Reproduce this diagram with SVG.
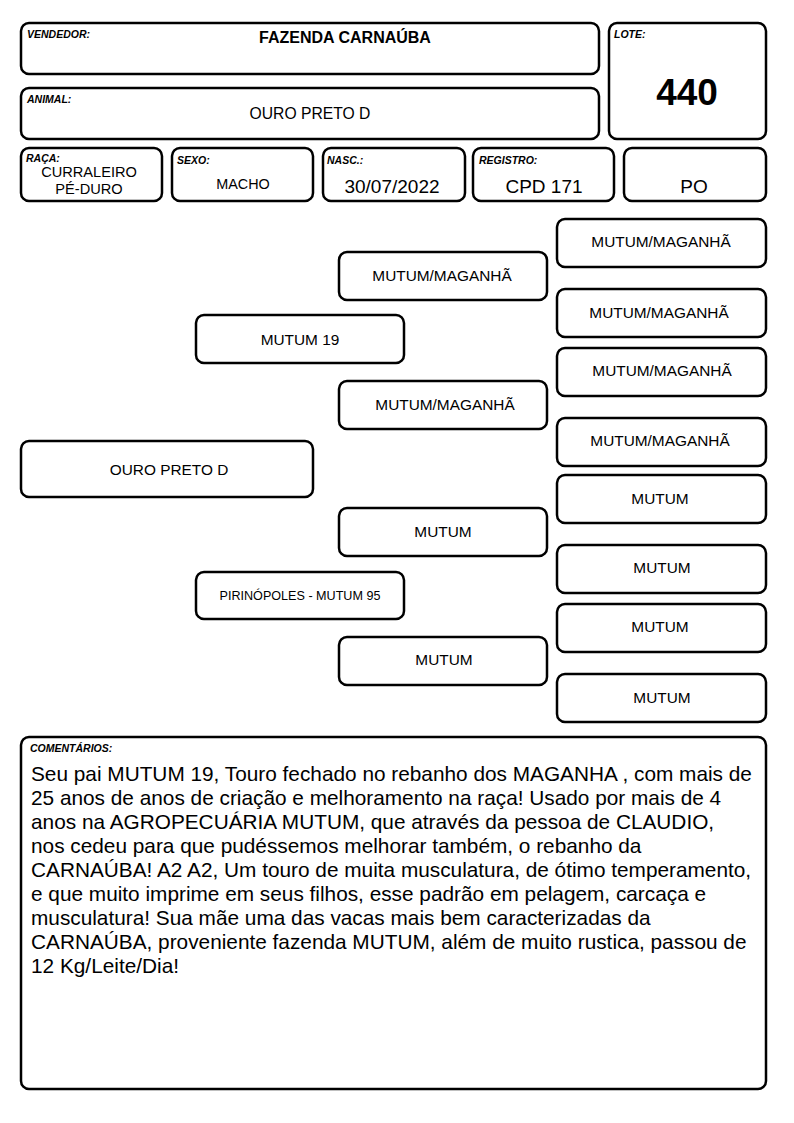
<svg xmlns="http://www.w3.org/2000/svg" width="794" height="1123" viewBox="0 0 794 1123">
<style>
.b{fill:#fff;stroke:#000;stroke-width:2.5}
.l{font-family:"Liberation Sans",Arial,sans-serif;font-size:10.5px;font-weight:bold;font-style:italic}
.t{font-family:"Liberation Sans",Arial,sans-serif;text-anchor:middle;font-size:15.4px}
.c{font-family:"Liberation Sans",Arial,sans-serif;font-size:20.8px}
</style>
<rect width="794" height="1123" fill="#fff"/>
<g id="vendedor"><rect class="b" x="21" y="23" width="578" height="51" rx="8"/><text class="l" x="27" y="38">VENDEDOR:</text><text class="t" x="345" y="43" style="font-weight:bold;font-size:16px">FAZENDA CARNAÚBA</text></g>
<g id="lote"><rect class="b" x="609" y="23" width="157" height="116" rx="8"/><text class="l" x="614" y="38">LOTE:</text><text class="t" x="687" y="105" style="font-weight:bold;font-size:37px">440</text></g>
<g id="animal"><rect class="b" x="21" y="88" width="578" height="51" rx="8"/><text class="l" x="27" y="103">ANIMAL:</text><text class="t" x="310" y="119" style="font-size:15.7px">OURO PRETO D</text></g>
<g id="raca"><rect class="b" x="21" y="148" width="141" height="53" rx="8"/><text class="l" x="26" y="162">RAÇA:</text><text class="t" x="89" y="177" style="font-size:14.6px">CURRALEIRO</text><text class="t" x="89" y="194" style="font-size:14.6px">PÉ-DURO</text></g>
<g id="sexo"><rect class="b" x="172" y="148" width="141" height="53" rx="8"/><text class="l" x="177" y="164">SEXO:</text><text class="t" x="243" y="189" style="font-size:14.4px">MACHO</text></g>
<g id="nasc"><rect class="b" x="323" y="148" width="142" height="53" rx="8"/><text class="l" x="327" y="164">NASC.:</text><text class="t" x="392" y="193" style="font-size:19px">30/07/2022</text></g>
<g id="registro"><rect class="b" x="473" y="148" width="141" height="53" rx="8"/><text class="l" x="479" y="164">REGISTRO:</text><text class="t" x="544" y="193" style="font-size:19px">CPD 171</text></g>
<g id="po"><rect class="b" x="624" y="148" width="142" height="53" rx="8"/><text class="t" x="694" y="193" style="font-size:19px">PO</text></g>
<g id="p0"><rect class="b" x="21" y="441" width="292" height="56" rx="8"/><text class="t" x="169" y="475">OURO PRETO D</text></g>
<g id="p1"><rect class="b" x="196" y="315" width="208" height="48" rx="8"/><text class="t" x="300" y="345">MUTUM 19</text></g>
<g id="p2"><rect class="b" x="196" y="572" width="208" height="47" rx="8"/><text class="t" x="300" y="600" style="font-size:12.6px">PIRINÓPOLES - MUTUM 95</text></g>
<g id="p3"><rect class="b" x="339" y="252" width="208" height="48" rx="8"/><text class="t" x="442" y="281">MUTUM/MAGANHÃ</text></g>
<g id="p4"><rect class="b" x="339" y="381" width="208" height="48" rx="8"/><text class="t" x="445" y="410">MUTUM/MAGANHÃ</text></g>
<g id="p5"><rect class="b" x="339" y="508" width="208" height="48" rx="8"/><text class="t" x="443" y="537">MUTUM</text></g>
<g id="p6"><rect class="b" x="339" y="637" width="208" height="48" rx="8"/><text class="t" x="444" y="665">MUTUM</text></g>
<g id="p7"><rect class="b" x="557" y="219" width="209" height="48" rx="8"/><text class="t" x="661" y="247">MUTUM/MAGANHÃ</text></g>
<g id="p8"><rect class="b" x="557" y="289" width="209" height="48" rx="8"/><text class="t" x="659" y="318">MUTUM/MAGANHÃ</text></g>
<g id="p9"><rect class="b" x="557" y="348" width="209" height="48" rx="8"/><text class="t" x="662" y="376">MUTUM/MAGANHÃ</text></g>
<g id="p10"><rect class="b" x="557" y="418" width="209" height="48" rx="8"/><text class="t" x="660" y="446">MUTUM/MAGANHÃ</text></g>
<g id="p11"><rect class="b" x="557" y="475" width="209" height="48" rx="8"/><text class="t" x="660" y="504">MUTUM</text></g>
<g id="p12"><rect class="b" x="557" y="545" width="209" height="48" rx="8"/><text class="t" x="662" y="573">MUTUM</text></g>
<g id="p13"><rect class="b" x="557" y="604" width="209" height="48" rx="8"/><text class="t" x="660" y="632">MUTUM</text></g>
<g id="p14"><rect class="b" x="557" y="674" width="209" height="48" rx="8"/><text class="t" x="662" y="703">MUTUM</text></g>
<g id="connectors"></g>
<g id="comentarios"><rect class="b" x="21" y="737" width="745" height="352" rx="8"/><text class="l" x="30" y="752">COMENTÁRIOS:</text>
<text class="c" x="31" y="781">Seu pai MUTUM 19, Touro fechado no rebanho dos MAGANHA , com mais de</text>
<text class="c" x="31" y="805">25 anos de anos de criação e melhoramento na raça! Usado por mais de 4</text>
<text class="c" x="31" y="829">anos na AGROPECUÁRIA MUTUM, que através da pessoa de CLAUDIO,</text>
<text class="c" x="31" y="853">nos cedeu para que pudéssemos melhorar também, o rebanho da</text>
<text class="c" x="31" y="877">CARNAÚBA! A2 A2, Um touro de muita musculatura, de ótimo temperamento,</text>
<text class="c" x="31" y="901">e que muito imprime em seus filhos, esse padrão em pelagem, carcaça e</text>
<text class="c" x="31" y="925">musculatura! Sua mãe uma das vacas mais bem caracterizadas da</text>
<text class="c" x="31" y="949">CARNAÚBA, proveniente fazenda MUTUM, além de muito rustica, passou de</text>
<text class="c" x="31" y="973">12 Kg/Leite/Dia!</text>
</g>
</svg>
